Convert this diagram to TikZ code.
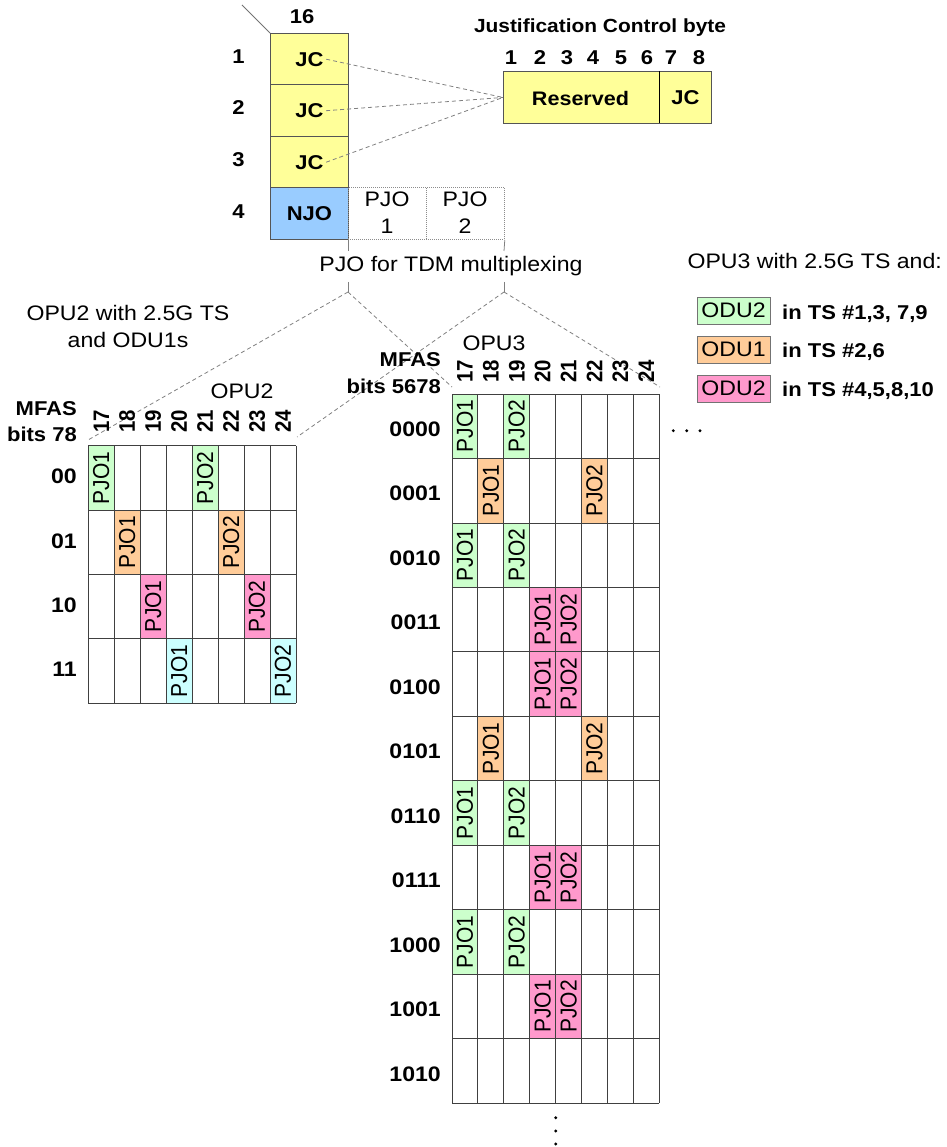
\documentclass[tikz,border=0pt]{standalone}
\usepackage{fontspec}
\setmainfont[FakeStretch=1.1]{Liberation Sans}
\newfontfamily\rotfont{Liberation Sans}
\usetikzlibrary{calc}
\definecolor{cyel}{HTML}{FFFF99}
\definecolor{cblue}{HTML}{99CCFF}
\definecolor{cgrn}{HTML}{CCFFCC}
\definecolor{corg}{HTML}{FFCC99}
\definecolor{cpnk}{HTML}{FF99CC}
\definecolor{ccyn}{HTML}{CCFFFF}
\definecolor{cline}{HTML}{555555}
\definecolor{cdash}{HTML}{808080}
\begin{document}
\begin{tikzpicture}[x=1pt,y=-1pt,
  bf/.style={font=\fontsize{20}{24}\selectfont\bfseries, inner sep=0pt},
  rg/.style={font=\fontsize{21}{25}\selectfont, inner sep=0pt},
  rotnum/.style={font=\rotfont\bfseries\fontsize{20.4}{24}\selectfont, inner sep=0pt, xscale=1.1, rotate=90, anchor=west},
  rotcell/.style={font=\rotfont\fontsize{21}{24}\selectfont, inner sep=0pt, xscale=1.1, rotate=90},
  dashln/.style={draw=cdash, dash pattern=on 4pt off 3pt, line width=0.8pt},
  thinln/.style={draw=cdash, line width=0.8pt},
  gridln/.style={draw=black!75, line width=0.9pt},
  boxln/.style={draw=cline, line width=0.9pt},
  cellbox/.style={boxln, minimum width=78pt, minimum height=51.5pt, inner sep=0pt, anchor=north west},
  hdrbox/.style={draw=black!45, dash pattern=on 1pt off 1pt, line width=0.8pt, minimum width=78pt, minimum height=51.5pt, inner sep=0pt, anchor=north west},
  legbox/.style={draw=black!55, line width=0.9pt, minimum width=73pt, minimum height=27pt, inner sep=0pt},
  smalldot/.style={circle, fill=black, inner sep=0pt, minimum size=3.2pt}
]
\useasboundingbox (0,0) rectangle (946,1147);

% ---------- top overhead column ----------
\coordinate (diagA) at (242,5);
\coordinate (diagB) at (270,33);
\draw[draw=black!55, line width=0.8pt] (diagA) -- (diagB);

\node[cellbox, fill=cyel] (c1) at (270,33) {};
\node[cellbox, fill=cyel] (c2) at (270,84.5) {};
\node[cellbox, fill=cyel] (c3) at (270,136) {};
\node[cellbox, fill=cblue] (c4) at (270,187.5) {};
\node[hdrbox] (hp1) at (348,187.5) {};
\node[hdrbox] (hp2) at (426,187.5) {};

\node[bf] (jc1) at (c1.center) {JC};
\node[bf] (jc2) at (c2.center) {JC};
\node[bf] (jc3) at (c3.center) {JC};
\node[bf] (njo) at (c4.center) {NJO};
\node[rg, anchor=base] (hp1a) at (387,206.7) {PJO};
\node[rg, anchor=base] (hp1b) at (387,234) {1};
\node[rg, anchor=base] (hp2a) at (465,206.7) {PJO};
\node[rg, anchor=base] (hp2b) at (465,234) {2};

\node[bf, anchor=base] (n16) at (302,24) {16};
\node[bf, anchor=base] (rn1) at (238.5,63.3) {1};
\node[bf, anchor=base] (rn2) at (238.5,115) {2};
\node[bf, anchor=base] (rn3) at (238.5,166.7) {3};
\node[bf, anchor=base] (rn4) at (238.5,218.3) {4};

% ---------- justification control byte ----------
\node[bf, font=\fontsize{19}{23}\selectfont\bfseries, anchor=base] (jtitle) at (600,32.3) {Justification Control byte};
\foreach \bx [count=\bi] in {511,540,567,593,621,647,671,699}
  \node[bf, anchor=base] (bit\bi) at (\bx,65) {\bi};
\node[boxln, fill=cyel, minimum width=208pt, minimum height=52pt, inner sep=0pt, anchor=north west] (byte) at (503,71) {};
\coordinate (divT) at (659,71);
\coordinate (divB) at (659,123);
\draw[black, line width=0.9pt] (divT) -- (divB);
\node[bf, font=\fontsize{19.6}{23}\selectfont\bfseries] (res) at (580.5,98) {Reserved};
\node[bf] (jcb) at (685.5,98) {JC};
\foreach \k in {1,2,3}
  \draw[dashln] ([xshift=2.5pt]jc\k.east) -- (byte.west);

% ---------- PJO for TDM multiplexing ----------
\node[rg, anchor=base] (tdm) at (451,271.5) {PJO for TDM multiplexing};
\coordinate (tA1) at (348,251);
\coordinate (tA2) at (348,282);
\coordinate (brA) at (348,292);
\coordinate (tB1) at (504,251);
\coordinate (tB2) at (504,282);
\coordinate (brB) at (504,292);
\draw[thinln] (hp1.south west) -- (tA1);
\draw[thinln] (tA2) -- (brA);
\draw[thinln] (hp2.south east) -- (tB1);
\draw[thinln] (tB2) -- (brB);

\coordinate (o2tl) at (88,440);
\coordinate (o2tr) at (297,437);
\coordinate (o3tl) at (452,387);
\coordinate (o3tr) at (660,387);
\draw[dashln] (brA) -- (o2tl);
\draw[dashln] (brA) -- (o3tl);
\draw[dashln] (brB) -- (o2tr);
\draw[dashln] (brB) -- (o3tr);

% ---------- OPU2 grid ----------
\node[rg, anchor=base] (o2t1) at (128,320) {OPU2 with 2.5G TS};
\node[rg, anchor=base] (o2t2) at (128,347) {and ODU1s};
\node[rg, anchor=base] (o2lab) at (242,398) {OPU2};
\node[bf, anchor=base east] (o2m1) at (77,415) {MFAS};
\node[bf, anchor=base east] (o2m2) at (77,441.7) {bits 78};

\foreach \cc/\rr/\cl/\lab in {0/0/cgrn/PJO1, 4/0/cgrn/PJO2, 1/1/corg/PJO1, 5/1/corg/PJO2, 2/2/cpnk/PJO1, 6/2/cpnk/PJO2, 3/3/ccyn/PJO1, 7/3/ccyn/PJO2}{
  \fill[\cl] ({88.3+\cc*25.96},{445.7+\rr*64.4}) rectangle ++(25.96,64.4);
  \node[rotcell] (oa\cc-\rr) at ({88.3+(\cc+0.5)*25.96},{445.7+(\rr+0.5)*64.4}) {\lab};
}
\foreach \i in {0,...,8}
  \draw[gridln] ({88.3+\i*25.96},445.7) -- ({88.3+\i*25.96},703.3);
\foreach \j in {0,...,4}
  \draw[gridln] (88.3,{445.7+\j*64.4}) -- (296,{445.7+\j*64.4});
\foreach \n [count=\i from 0] in {17,...,24}
  \node[rotnum] (oah\n) at ({88.3+(\i+0.5)*25.96},433) {\n};
\foreach \lab [count=\i from 0] in {00,01,10,11}
  \node[bf, anchor=east, font=\fontsize{21}{24}\selectfont\bfseries] (oar\i) at (77,{445.7+(\i+0.5)*64.4-1.5}) {\lab};

% ---------- OPU3 grid ----------
\node[rg, anchor=base] (o3lab) at (494,350) {OPU3};
\node[bf, anchor=base east] (o3m1) at (441,366.7) {MFAS};
\node[bf, anchor=base east] (o3m2) at (441,393.3) {bits 5678};

\foreach \cc/\rr/\cl/\lab in {0/0/cgrn/PJO1, 2/0/cgrn/PJO2, 1/1/corg/PJO1, 5/1/corg/PJO2, 0/2/cgrn/PJO1, 2/2/cgrn/PJO2, 3/3/cpnk/PJO1, 4/3/cpnk/PJO2, 3/4/cpnk/PJO1, 4/4/cpnk/PJO2, 1/5/corg/PJO1, 5/5/corg/PJO2, 0/6/cgrn/PJO1, 2/6/cgrn/PJO2, 3/7/cpnk/PJO1, 4/7/cpnk/PJO2, 0/8/cgrn/PJO1, 2/8/cgrn/PJO2, 3/9/cpnk/PJO1, 4/9/cpnk/PJO2}{
  \fill[\cl] ({452+\cc*25.91},{394+\rr*64.48}) rectangle ++(25.91,64.48);
  \node[rotcell] (ob\cc-\rr) at ({452+(\cc+0.5)*25.91},{394+(\rr+0.5)*64.48}) {\lab};
}
\foreach \i in {0,...,8}
  \draw[gridln] ({452+\i*25.91},394) -- ({452+\i*25.91},1103.3);
\foreach \j in {0,...,11}
  \draw[gridln] (452,{394+\j*64.48}) -- (659.3,{394+\j*64.48});
\foreach \n [count=\i from 0] in {17,...,24}
  \node[rotnum] (obh\n) at ({452+(\i+0.5)*25.91},383) {\n};
\foreach \lab [count=\i from 0] in {0000,0001,0010,0011,0100,0101,0110,0111,1000,1001,1010}
  \node[bf, anchor=east, font=\fontsize{21}{24}\selectfont\bfseries] (obr\i) at (441,{394+(\i+0.5)*64.48+2.8}) {\lab};

% continuation dots
\node[smalldot] (hd1) at (673.3,430.7) {};
\node[smalldot] (hd2) at (686.7,430.7) {};
\node[smalldot] (hd3) at (700,430.7) {};
\node[smalldot] (vd1) at (555.7,1117.7) {};
\node[smalldot] (vd2) at (555.7,1131) {};
\node[smalldot] (vd3) at (555.7,1144) {};

% ---------- legend ----------
\node[rg, anchor=base east] (lgt) at (942,268.3) {OPU3 with 2.5G TS and:};
\node[legbox, rg, fill=cgrn] (lg1) at (733.5,310.5) {ODU2};
\node[legbox, rg, fill=corg] (lg2) at (733.5,349.5) {ODU1};
\node[legbox, rg, fill=cpnk] (lg3) at (733.5,388.5) {ODU2};
\node[bf, anchor=base west] (lgx1) at (782,319) {in TS \#1,3, 7,9};
\node[bf, anchor=base west] (lgx2) at (782,357.7) {in TS \#2,6};
\node[bf, anchor=base west] (lgx3) at (782,396) {in TS \#4,5,8,10};
\end{tikzpicture}
\end{document}
